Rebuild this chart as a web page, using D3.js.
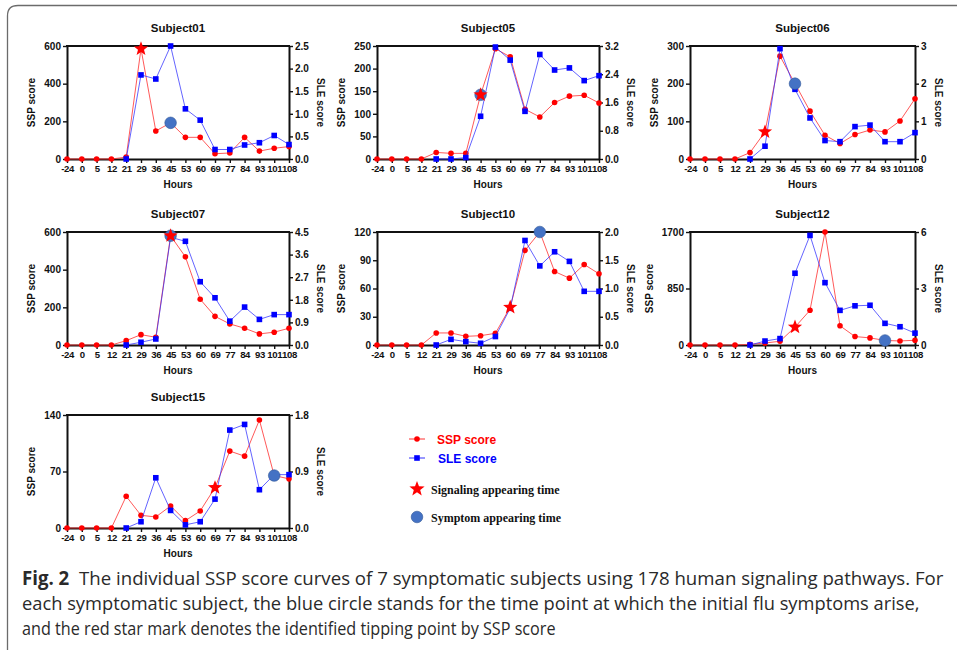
<!DOCTYPE html>
<html><head><meta charset="utf-8">
<script src="https://cdn.jsdelivr.net/npm/d3@7"></script>
<style>
html,body{margin:0;padding:0;background:#fff;}
svg{display:block;}
</style></head>
<body>
<svg id="c" width="957" height="650"></svg>
<script>
// ---------- DATA ----------
const hours = ["-24","0","5","12","21","29","36","45","53","60","69","77","84","93","101","108"];
const subjects = ["Subject01","Subject05","Subject06","Subject07","Subject10","Subject12","Subject15"];

const ssp01 = [0,0,0,0,10,585,149,192,115,115,28,32,115,42,57,66];
const sle01 = [null,null,null,null,0,1.86,1.77,2.5,1.11,0.86,0.21,0.21,0.31,0.36,0.52,0.32];
const ssp05 = [0,0,0,0,14.5,12.5,12.5,142,244,226,110,93,125,139,141,124];
const sle05 = [null,null,null,null,0,0,0.04,1.21,3.17,2.8,1.35,2.96,2.52,2.58,2.22,2.36];
const ssp06 = [0,0,0,0,17,72,273,200,127,63,41,65,77,72,101,160];
const sle06 = [null,null,null,null,0,0.34,2.93,1.85,1.09,0.49,0.46,0.86,0.9,0.46,0.46,0.7];
const ssp07 = [0,0,0,0,23,55,41,580,468,243,152,112,89,59,68,89];
const sle07 = [null,null,null,null,0,0.11,0.24,4.29,4.13,2.52,1.88,0.95,1.51,1.02,1.21,1.21];
const ssp10 = [0,0,0,0,12.8,12.8,9.2,9.9,12.4,40,100.5,120,78,71,85.5,75.6];
const sle10 = [null,null,null,null,0,0.1,0.06,0.03,0.15,0.65,1.85,1.4,1.65,1.48,0.95,0.95];
const ssp12 = [0,0,0,0,10,30,56,269,523,1700,289,127,107,68,61,71];
const sle12 = [null,null,null,null,0,0.21,0.34,3.81,5.82,3.31,1.84,2.08,2.11,1.15,0.97,0.63];
const ssp15 = [0,0,0,0,39.3,15.7,13.7,27.3,9.1,21.1,50,95.3,89,133.8,65,60.9];
const sle15 = [null,null,null,null,0,0.1,0.8,0.28,0.05,0.1,0.46,1.56,1.65,0.61,0.85,0.85];

const sspSeries = [ssp01,ssp05,ssp06,ssp07,ssp10,ssp12,ssp15];
const sleSeries = [sle01,sle05,sle06,sle07,sle10,sle12,sle15];

const signalingHour = ["29","45","29","45","60","45","69"];
const symptomHour   = ["45","45","45","45","77","93","101"];

const sspTicks = [[0,200,400,600],[0,50,100,150,200,250],[0,100,200,300],[0,200,400,600],[0,30,60,90,120],[0,850,1700],[0,70,140]];
const sleTicks = [[0,0.5,1,1.5,2,2.5],[0,0.8,1.6,2.4,3.2],[0,1,2,3],[0,0.9,1.8,2.7,3.6,4.5],[0,0.5,1,1.5,2],[0,3,6],[0,0.9,1.8]];
const sleFormat = [".1f",".1f","d",".1f",".1f","d",".1f"];

const legendLabels = ["SSP score","SLE score","Signaling appearing time","Symptom appearing time"];
const xLabel = "Hours", yLabel = "SSP score", y2Label = "SLE score";
const captionBold = "Fig. 2";
const captionLines = [
  "The individual SSP score curves of 7 symptomatic subjects using 178 human signaling pathways. For",
  "each symptomatic subject, the blue circle stands for the time point at which the initial flu symptoms arise,",
  "and the red star mark denotes the identified tipping point by SSP score"
];

// ---------- LAYOUT ----------
const colLeft = [67,377,690], colW = [222,222,225];
const rowTop = [46,232,415], plotH = 113;
const RED = "#ff0000", BLUE = "#0000ff";
const svg = d3.select("#c");
const tickFont = "'Liberation Sans', Arial, sans-serif";

// border
svg.append("path")
  .attr("d","M7.5,650 L7.5,16 Q7.5,5.5 18,5.5 L957,5.5")
  .attr("fill","none").attr("stroke","#6b6b6b").attr("stroke-width",1.3);

function starPath(cx,cy,R){
  const r = R*0.42; let p = "";
  for(let i=0;i<10;i++){
    const a = -Math.PI/2 + i*Math.PI/5;
    const rr = i%2===0?R:r;
    p += (i===0?"M":"L") + (cx+rr*Math.cos(a)).toFixed(2)+","+(cy+rr*Math.sin(a)).toFixed(2);
  }
  return p+"Z";
}

subjects.forEach((name,i)=>{
  const row = Math.floor(i/3), col = i%3;
  const L = colLeft[col], W = colW[col], T = rowTop[row], B = T+plotH, R = L+W;
  const x = d3.scalePoint().domain(hours).range([L,R]).padding(0);
  const yT = sspTicks[i], y2T = sleTicks[i];
  const y = d3.scaleLinear().domain([0,yT[yT.length-1]]).range([B,T]);
  const y2 = d3.scaleLinear().domain([0,y2T[y2T.length-1]]).range([B,T]);
  const g = svg.append("g");

  // axes
  const ax = g.append("g").attr("transform",`translate(0,${B})`)
    .call(d3.axisBottom(x).tickSize(4).tickSizeOuter(0).tickPadding(2));
  const ayl = g.append("g").attr("transform",`translate(${L},0)`)
    .call(d3.axisLeft(y).tickValues(yT).tickSize(4).tickSizeOuter(0).tickPadding(2).tickFormat(d3.format("d")));
  const ayr = g.append("g").attr("transform",`translate(${R},0)`)
    .call(d3.axisRight(y2).tickValues(y2T).tickSize(4).tickSizeOuter(0).tickPadding(2).tickFormat(d3.format(sleFormat[i])));
  [ax,ayl,ayr].forEach(a=>{
    a.select(".domain").attr("stroke","#111").attr("stroke-width",2);
    a.selectAll(".tick line").attr("stroke","#111").attr("stroke-width",1.4);
    a.selectAll(".tick text").attr("fill","#111").style("font-family",tickFont).style("font-weight","bold").style("font-size","10px");
  });
  ax.selectAll(".tick text").style("font-size","9.6px").attr("letter-spacing","-0.4");
  g.append("line").attr("x1",L-1).attr("x2",R+1).attr("y1",T).attr("y2",T)
    .attr("stroke","#111").attr("stroke-width",2);

  // label offsets from tick label widths
  let lw = 0; ayl.selectAll(".tick text").each(function(){lw=Math.max(lw,this.getComputedTextLength());});
  let rw = 0; ayr.selectAll(".tick text").each(function(){rw=Math.max(rw,this.getComputedTextLength());});

  g.append("text").attr("x",(L+R)/2).attr("y",T-14).attr("text-anchor","middle")
    .style("font-family",tickFont).style("font-weight","bold").style("font-size","11.5px").attr("fill","#111").text(name);
  g.append("text").attr("x",(L+R)/2).attr("y",B+29).attr("text-anchor","middle")
    .style("font-family",tickFont).style("font-weight","bold").style("font-size","10px").attr("fill","#111").text(xLabel);
  const lx = L-6-lw-9, rx = R+6+rw+8, my=(T+B)/2;
  g.append("text").attr("transform",`translate(${lx},${my}) rotate(-90)`).attr("text-anchor","middle")
    .style("font-family",tickFont).style("font-weight","bold").style("font-size","10px").attr("fill","#111").text(yLabel);
  g.append("text").attr("transform",`translate(${rx},${my}) rotate(90)`).attr("text-anchor","middle")
    .style("font-family",tickFont).style("font-weight","bold").style("font-size","10px").attr("fill","#111").text(y2Label);

  // SSP series
  const ssp = sspSeries[i], sle = sleSeries[i];
  const sspPts = hours.map((h,k)=>({h,v:ssp[k]}));
  const slePts = hours.map((h,k)=>({h,v:sle[k]})).filter(d=>d.v!==null);
  g.append("path").datum(sspPts)
    .attr("d",d3.line().x(d=>x(d.h)).y(d=>y(d.v)))
    .attr("fill","none").attr("stroke","#ff3030").attr("stroke-opacity",0.8).attr("stroke-width",1);
  g.selectAll(".rd").data(sspPts).enter().append("circle")
    .attr("cx",d=>x(d.h)).attr("cy",d=>y(d.v)).attr("r",2.8).attr("fill",RED);
  g.append("path").datum(slePts)
    .attr("d",d3.line().x(d=>x(d.h)).y(d=>y2(d.v)))
    .attr("fill","none").attr("stroke","#3030ff").attr("stroke-opacity",0.75).attr("stroke-width",1);
  g.selectAll(".bs").data(slePts).enter().append("rect")
    .attr("x",d=>x(d.h)-2.8).attr("y",d=>y2(d.v)-2.8).attr("width",5.6).attr("height",5.6).attr("fill",BLUE);

  // markers
  const ch = symptomHour[i], sh = signalingHour[i];
  g.append("circle").attr("cx",x(ch)).attr("cy",y(ssp[hours.indexOf(ch)])).attr("r",5.8)
    .attr("fill","#4472c4").attr("stroke","#2f5597").attr("stroke-width",0.6);
  g.append("path").attr("d",starPath(x(sh),y(ssp[hours.indexOf(sh)]),7.5)).attr("fill",RED);
});

// ---------- LEGEND ----------
const lg = svg.append("g");
const lgX0 = 409, lgX1 = 425, lgMid = 417;
lg.append("line").attr("x1",lgX0).attr("x2",lgX1).attr("y1",439).attr("y2",439).attr("stroke","#ff3030").attr("stroke-width",1);
lg.append("circle").attr("cx",lgMid).attr("cy",439).attr("r",2.8).attr("fill",RED);
lg.append("text").attr("x",437).attr("y",443.5).attr("fill",RED)
  .style("font-family",tickFont).style("font-weight","bold").style("font-size","12px").text(legendLabels[0]);
lg.append("line").attr("x1",lgX0).attr("x2",lgX1).attr("y1",458).attr("y2",458).attr("stroke","#3030ff").attr("stroke-width",1);
lg.append("rect").attr("x",lgMid-2.8).attr("y",458-2.8).attr("width",5.6).attr("height",5.6).attr("fill",BLUE);
lg.append("text").attr("x",438).attr("y",462.5).attr("fill",BLUE)
  .style("font-family",tickFont).style("font-weight","bold").style("font-size","12px").text(legendLabels[1]);
lg.append("path").attr("d",starPath(lgMid,489,8)).attr("fill",RED);
lg.append("text").attr("x",431).attr("y",494).attr("fill","#111")
  .style("font-family","'Liberation Serif','Times New Roman',serif").style("font-weight","bold").style("font-size","12px").text(legendLabels[2]);
lg.append("circle").attr("cx",lgMid).attr("cy",517).attr("r",5.8).attr("fill","#4472c4").attr("stroke","#2f5597").attr("stroke-width",0.6);
lg.append("text").attr("x",431).attr("y",521.5).attr("fill","#111")
  .style("font-family","'Liberation Serif','Times New Roman',serif").style("font-weight","bold").style("font-size","12px").text(legendLabels[3]);

// ---------- CAPTION ----------
const capX = 22, capEnds = [934,920,556];
const capBase = [585,610,635];
captionLines.forEach((ln,k)=>{
  const t = svg.append("text").attr("x",0).attr("y",0)
    .style("font-family","'Open Sans', 'Noto Sans', sans-serif").style("font-size","19px").attr("fill","#2a2a2a");
  if(k===0){
    t.append("tspan").style("font-weight","bold").text(captionBold);
    t.append("tspan").attr("dx",10).text(ln);
  } else t.text(ln);
  const w = t.node().getComputedTextLength();
  const s = (capEnds[k]-capX)/w;
  t.attr("transform",`translate(${capX},${capBase[k]}) scale(${s},1)`);
});
</script>
</body></html>
